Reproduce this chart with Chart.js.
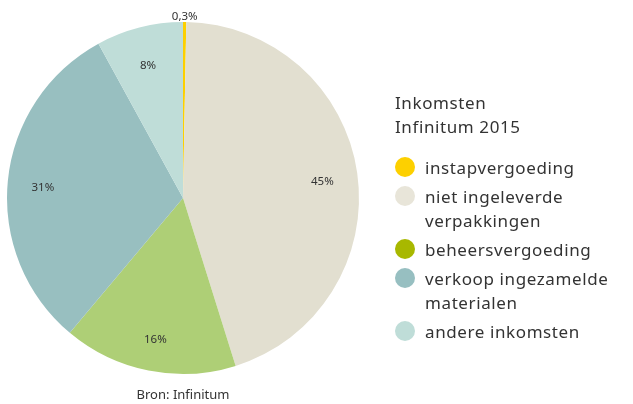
<!DOCTYPE html>
<html>
<head>
<meta charset="utf-8">
<script src="https://cdn.jsdelivr.net/npm/chart.js@4"></script>
<style>
  body { margin: 0; background: #fff; font-family: "Noto Sans", sans-serif; color: #333; }
  #wrap { position: relative; width: 633px; height: 404px; }
  #legend { position: absolute; left: 395px; top: 91px; font-size: 17px; letter-spacing: 0.6px; }
  #legend .title { line-height: 24px; margin-bottom: 17px; }
  #legend .item { position: relative; padding-left: 30px; line-height: 24px; margin-bottom: 5px; }
  #legend .dot { position: absolute; left: 0; top: 1px; width: 20px; height: 20px; border-radius: 50%; }
  #source { position: absolute; left: 83px; width: 200px; top: 385px; text-align: center; font-size: 13px; }
</style>
</head>
<body>
<div id="wrap">
  <canvas id="pie" width="633" height="404"></canvas>
  <div id="legend"></div>
  <div id="source">Bron: Infinitum</div>
</div>
<script>
// data
const categories = ['instapvergoeding', 'niet ingeleverde verpakkingen', 'beheersvergoeding', 'verkoop ingezamelde materialen', 'andere inkomsten'];
const legendLines = [['instapvergoeding'], ['niet ingeleverde', 'verpakkingen'], ['beheersvergoeding'], ['verkoop ingezamelde', 'materialen'], ['andere inkomsten']];
const values = [0.3, 45, 16, 31, 8];
const valueLabels = ['0,3%', '45%', '16%', '31%', '8%'];
const sliceColors = ['#fdd000', '#e2dfd0', '#aecf76', '#98bfc0', '#bfddd8'];
const legendColors = ['#fdd000', '#e8e5d9', '#a8b800', '#97bfc1', '#bfddd8'];

// legend as html
const legend = document.getElementById('legend');
legend.innerHTML = '<div class="title">Inkomsten<br>Infinitum 2015</div>' +
  legendLines.map((lines, i) =>
    `<div class="item"><span class="dot" style="background:${legendColors[i]}"></span>${lines.join('<br>')}</div>`
  ).join('');

// percentage labels inside the slices, small one outside
const sliceLabels = {
    id: 'sliceLabels',
    afterDatasetsDraw(chart) {
        const ctx = chart.ctx;
        const arcs = chart.getDatasetMeta(0).data;
        ctx.save();
        ctx.font = '11.5px "Noto Sans", sans-serif';
        ctx.fillStyle = '#333';
        ctx.textAlign = 'center';
        ctx.textBaseline = 'middle';
        arcs.forEach((arc, i) => {
            const mid = (arc.startAngle + arc.endAngle) / 2;
            const small = values[i] < 2;
            const r = small ? arc.outerRadius + 9 : arc.outerRadius * 0.8;
            ctx.fillText(valueLabels[i], arc.x + Math.cos(mid) * r, arc.y + Math.sin(mid) * r + 4);
        });
        ctx.restore();
    }
};

const chart = new Chart(document.getElementById('pie').getContext('2d'), {
    type: 'pie',
    data: {
        labels: categories,
        datasets: [{
            data: values,
            backgroundColor: sliceColors,
            borderColor: sliceColors,
            borderWidth: 0
        }]
    },
    options: {
        responsive: false,
        animation: false,
        layout: { padding: { left: 7, right: 274, top: 22, bottom: 30 } },
        plugins: {
            legend: { display: false },
            tooltip: { enabled: false }
        }
    },
    plugins: [sliceLabels]
});
</script>
</body>
</html>
